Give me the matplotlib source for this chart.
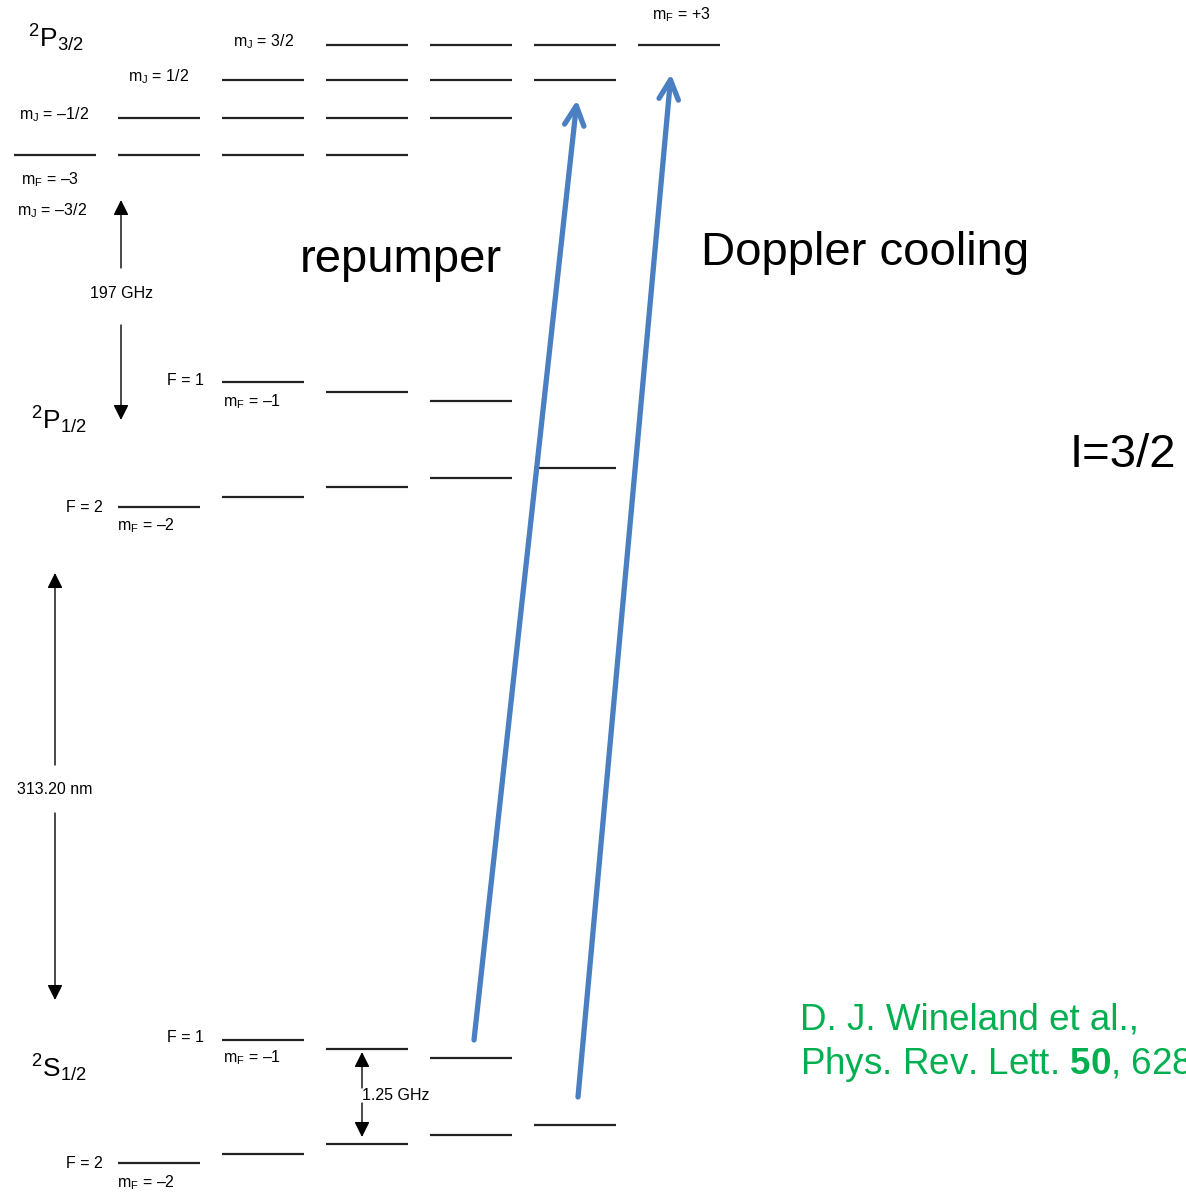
import matplotlib.pyplot as plt

plt.rcParams['font.family'] = ['Liberation Sans', 'DejaVu Sans']
plt.rcParams['mathtext.fontset'] = 'custom'
plt.rcParams['mathtext.rm'] = 'Liberation Sans'
plt.rcParams['mathtext.it'] = 'Liberation Sans:italic'
plt.rcParams['mathtext.bf'] = 'Liberation Sans:bold'

# Niveles (posición vertical en unidades de la figura, hacia abajo)
mI = [-1.5, -0.5, 0.5, 1.5]
p32_mJ = [-1.5, -0.5, 0.5, 1.5]
p32_y = [155, 118, 80, 45]

p12_F1_mF = [-1, 0, 1]
p12_F1_y = [382, 392, 401]
p12_F2_mF = [-2, -1, 0, 1, 2]
p12_F2_y = [507, 497, 487, 478, 468]

s12_F1_mF = [-1, 0, 1]
s12_F1_y = [1040, 1049, 1058]
s12_F2_mF = [-2, -1, 0, 1, 2]
s12_F2_y = [1163, 1154, 1144, 1135, 1125]

# Transiciones láser: (x inicio, y inicio, x final, y final)
repumper = (474, 1040, 577, 100)
doppler = (578, 1097, 671, 74)

col_x0 = 14
col_step = 104
col_w = 82

fig = plt.figure(figsize=(11.86, 11.95), dpi=100)
ax = fig.add_axes([0, 0, 1, 1])
ax.set_xlim(0, 1186)
ax.set_ylim(1195, 0)
ax.axis('off')


def level(mF, y):
    x0 = col_x0 + col_step * (mF + 3)
    ax.plot([x0, x0 + col_w], [y, y], color='#222222', lw=1.6, solid_capstyle='butt')


for mJ, y in zip(p32_mJ, p32_y):
    for mi in mI:
        level(mJ + mi, y)
for mF, y in zip(p12_F1_mF, p12_F1_y):
    level(mF, y)
for mF, y in zip(p12_F2_mF, p12_F2_y):
    level(mF, y)
for mF, y in zip(s12_F1_mF, s12_F1_y):
    level(mF, y)
for mF, y in zip(s12_F2_mF, s12_F2_y):
    level(mF, y)

# Flechas negras (separaciones)
def gap_arrow(x, y_text, y_end, gap):
    sign = 1 if y_end > y_text else -1
    ax.annotate('', xy=(x, y_end), xytext=(x, y_text + sign * gap),
                arrowprops=dict(arrowstyle='-|>', color='black', lw=1.0,
                                mutation_scale=23, shrinkA=0, shrinkB=0))

gap_arrow(121, 293, 200, 25)
gap_arrow(121, 293, 420, 32)
gap_arrow(55, 789, 573, 24)
gap_arrow(55, 789, 1000, 24)
gap_arrow(362, 1095, 1052, 7)
gap_arrow(362, 1095, 1137, 8)

small = 11.5
ax.text(121, 293, '197 GHz', fontsize=small, ha='center', va='center')
ax.text(55, 789, '313.20 nm', fontsize=small, ha='center', va='center')
ax.text(362, 1095, '1.25 GHz', fontsize=small, ha='left', va='center')

# Etiquetas de los términos
ax.text(28, 38, r'$^{2}$P$_{3/2}$', fontsize=19, ha='left', va='center')
ax.text(31, 420, r'$^{2}$P$_{1/2}$', fontsize=19, ha='left', va='center')
ax.text(31, 1068, r'$^{2}$S$_{1/2}$', fontsize=19, ha='left', va='center')

mJ_lab = r'm$_\mathregular{J}$'
mF_lab = r'm$_\mathregular{F}$'
ax.text(233, 42, mJ_lab + ' = 3/2', fontsize=small, ha='left', va='center')
ax.text(128, 77, mJ_lab + ' = 1/2', fontsize=small, ha='left', va='center')
ax.text(19, 115, mJ_lab + ' = \u20131/2', fontsize=small, ha='left', va='center')
ax.text(21, 180, mF_lab + ' = \u20133', fontsize=small, ha='left', va='center')
ax.text(17, 211, mJ_lab + ' = \u20133/2', fontsize=small, ha='left', va='center')
ax.text(652, 15, mF_lab + ' = +3', fontsize=small, ha='left', va='center')

ax.text(204, 380, 'F = 1', fontsize=small, ha='right', va='center')
ax.text(223, 402, mF_lab + ' = \u20131', fontsize=small, ha='left', va='center')
ax.text(103, 507, 'F = 2', fontsize=small, ha='right', va='center')
ax.text(117, 526, mF_lab + ' = \u20132', fontsize=small, ha='left', va='center')

ax.text(204, 1037, 'F = 1', fontsize=small, ha='right', va='center')
ax.text(223, 1058, mF_lab + ' = \u20131', fontsize=small, ha='left', va='center')
ax.text(103, 1163, 'F = 2', fontsize=small, ha='right', va='center')
ax.text(117, 1183, mF_lab + ' = \u20132', fontsize=small, ha='left', va='center')

# Flechas azules (láseres)
blue = '#4a7fc1'
for x0, y0, x1, y1 in [repumper, doppler]:
    ax.annotate('', xy=(x1, y1), xytext=(x0, y0),
                arrowprops=dict(arrowstyle='->,head_length=1.0,head_width=0.5',
                                color=blue, lw=3.8, mutation_scale=14,
                                shrinkA=0, shrinkB=0, capstyle='round',
                                joinstyle='round'))

ax.text(300, 260, 'repumper', fontsize=34, ha='left', va='center')
ax.text(701, 253, 'Doppler cooling', fontsize=34, ha='left', va='center')
ax.text(1070, 455, 'I=3/2', fontsize=34, ha='left', va='center')

green = '#00b050'
ax.text(800, 1020, 'D. J. Wineland et al.,', fontsize=26.5, color=green,
        ha='left', va='center')
ax.text(800, 1065, r'Phys. Rev. Lett. $\mathbf{50}$, 628 (1983)', fontsize=26.5,
        color=green, ha='left', va='center')

fig.savefig('out.png', dpi=100)
